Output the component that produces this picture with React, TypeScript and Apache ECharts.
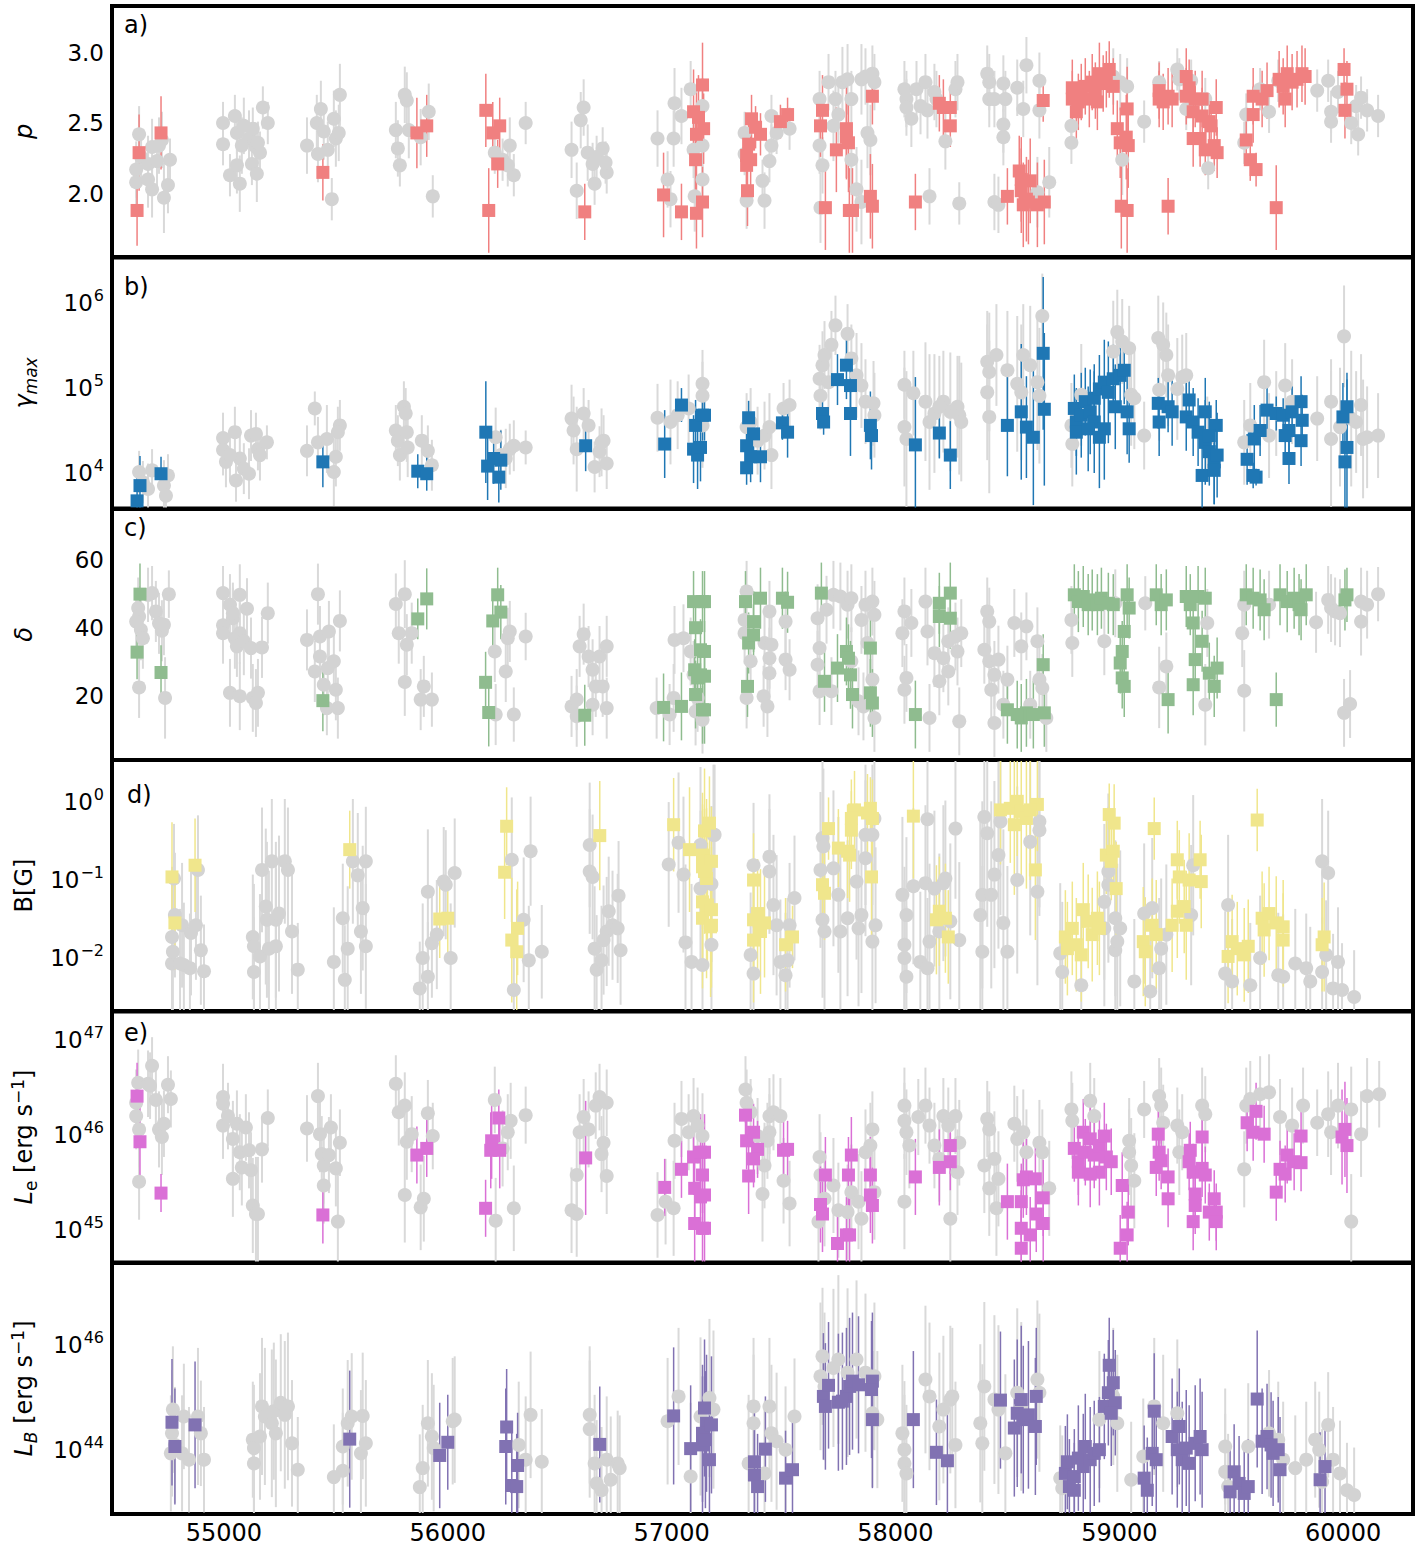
import React, { useEffect, useRef } from "react";
import * as echarts from "echarts";

// ---------- tick values ----------
const X_TICKS = [55000, 56000, 57000, 58000, 59000, 60000];
const P_TICKS = [2.0, 2.5, 3.0];
const GAMMA_TICKS = [4, 5, 6]; // log10 gamma_max
const DELTA_TICKS = [20, 40, 60];
const B_TICKS = [-2, -1, 0]; // log10 B
const LE_TICKS = [45, 46, 47]; // log10 Le
const LB_TICKS = [44, 46]; // log10 LB

// ---------- panel a: p  [MJD, p, err] ----------
const pGray = [
  [54621,2.42,0.2],[54608,2.17,0.2],[54608,2.08,0.2],[54630,2.26,0.2],[54661,2.21,0.2],[54679,2.33,0.2],[54701,2.23,0.2],[54679,2.03,0.2],[54723,2.38,0.2],[54732,1.97,0.25],[54750,2.06,0.2],[54759,2.24,0.15],[54661,2.1,0.2],[54710,2.34,0.2],
  [54996,2.5,0.15],[54996,2.35,0.15],[55027,2.13,0.15],[55049,2.55,0.15],[55058,2.43,0.15],[55071,2.07,0.2],[55058,2.2,0.2],[55089,2.48,0.2],[55112,2.39,0.2],[55129,2.46,0.15],[55143,2.33,0.15],[55125,2.21,0.15],[55147,2.14,0.2],[55161,2.29,0.15],[55174,2.61,0.15],[55196,2.5,0.15],[55080,2.34,0.2],[55152,2.36,0.15],
  [55371,2.34,0.2],[55415,2.5,0.2],[55420,2.28,0.2],[55433,2.6,0.2],[55446,2.44,0.2],[55482,1.96,0.15],[55491,2.53,0.2],[55500,2.39,0.2],[55513,2.43,0.2],[55518,2.7,0.22],[55464,2.31,0.2],
  [55768,2.45,0.2],[55777,2.32,0.2],[55786,2.2,0.15],[55808,2.7,0.2],[55817,2.66,0.2],[55826,2.45,0.2],[55879,2.4,0.2],[55915,2.58,0.2],[55933,1.98,0.15],
  [56210,2.29,0.15],[56245,2.24,0.15],[56277,2.34,0.2],[56295,2.13,0.15],[56348,2.5,0.15],[56268,2.2,0.15],
  [56553,2.31,0.2],[56576,2.02,0.2],[56594,2.52,0.2],[56607,2.61,0.2],[56625,2.29,0.2],[56647,2.21,0.15],[56656,2.07,0.15],[56665,2.26,0.15],[56692,2.32,0.15],[56710,2.15,0.15],[56705,2.22,0.15],
  [56937,2.39,0.2],[56982,2.1,0.2],[56995,1.96,0.2],[57013,2.64,0.25],[57009,2.39,0.2],[57044,2.55,0.2],[57085,2.74,0.2],[57098,2.31,0.2],[57103,1.98,0.25],[57138,2.34,0.2],[57138,2.1,0.2],[57138,2.62,0.2],
  [57326,2.43,0.15],[57326,2.28,0.15],[57335,1.95,0.2],[57406,2.09,0.15],[57415,1.95,0.2],[57437,2.23,0.15],[57446,2.55,0.15],[57446,2.34,0.15],[57527,2.46,0.15],[57469,2.43,0.15],
  [57661,2.67,0.2],[57661,2.34,0.2],[57674,2.2,0.2],[57665,1.9,0.25],[57701,2.79,0.2],[57732,2.67,0.2],[57745,2.56,0.2],[57763,2.79,0.25],[57786,2.81,0.25],[57803,2.67,0.2],[57826,2.03,0.3],[57848,2.81,0.25],[57866,2.83,0.2],[57897,2.85,0.2],[57906,2.79,0.2],[57875,2.43,0.25],[57888,2.38,0.25],[57848,1.94,0.3],[57803,2.24,0.25],[57723,2.48,0.25],
  [58040,2.74,0.2],[58049,2.67,0.2],[58049,2.61,0.2],[58071,2.53,0.2],[58094,2.74,0.2],[58134,2.79,0.2],[58143,2.59,0.2],[58152,1.98,0.2],[58174,2.72,0.2],[58183,2.67,0.2],[58223,2.37,0.2],[58268,2.74,0.2],[58277,2.79,0.2],[58285,1.93,0.15],[58112,2.62,0.2],
  [58410,2.85,0.2],[58419,2.79,0.2],[58419,2.67,0.2],[58442,2.67,0.2],[58482,2.78,0.2],[58491,2.67,0.2],[58544,2.75,0.2],[58585,2.91,0.2],[58571,2.6,0.2],[58482,2.49,0.2],[58482,2.4,0.2],[58442,1.94,0.2],[58460,1.92,0.2],[58643,2.8,0.2],[58643,2.59,0.2],[58687,2.08,0.25],[58634,2.01,0.25],
  [58786,2.48,0.15],[58786,2.36,0.15],[58973,2.83,0.2],[59004,2.79,0.2],[59035,2.76,0.2],[59013,2.24,0.25],[59111,2.51,0.15],
  [59178,2.79,0.15],[59259,2.88,0.15],[59268,2.81,0.15],[59321,2.8,0.15],[59384,2.67,0.15],[59397,2.18,0.15],[59299,2.6,0.15],
  [59558,2.36,0.15],[59567,2.56,0.15],[59629,2.74,0.15],[59669,2.58,0.15],[59710,2.8,0.15],
  [59884,2.73,0.15],[59933,2.8,0.15],[59946,2.58,0.15],[59946,2.51,0.15],[59977,2.72,0.15],[60058,2.62,0.15],[60080,2.68,0.15],[60067,2.42,0.15],[60107,2.59,0.15],[60156,2.55,0.15],[60036,2.5,0.15]
];
const pSel = [
  [54612,1.88,0.25],[54621,2.29,0.27],[54719,2.43,0.26],[55442,2.15,0.2],[55862,2.43,0.25],[55906,2.48,0.22],[56170,2.59,0.26],[56183,1.88,0.3],[56201,2.43,0.22],[56232,2.48,0.2],[56223,2.21,0.17],[56612,1.87,0.2],
  [56964,1.99,0.3],[57044,1.87,0.2],[57098,2.58,0.3],[57111,2.42,0.3],[57107,2.24,0.3],[57111,1.86,0.25],[57138,2.77,0.3],[57143,2.46,0.25],[57138,1.94,0.25],[57120,2.54,0.3],
  [57357,2.53,0.17],[57344,2.35,0.17],[57335,2.27,0.2],[57353,2.24,0.18],[57335,2.2,0.2],[57339,2.02,0.25],[57375,2.47,0.15],[57397,2.42,0.15],[57486,2.51,0.12],[57518,2.56,0.12],
  [57674,2.59,0.25],[57665,2.48,0.22],[57687,1.9,0.3],[57736,2.31,0.3],[57781,2.46,0.35],[57790,2.36,0.35],[57794,1.88,0.3],[57808,1.88,0.3],[57888,1.98,0.3],[57897,1.91,0.3],[57897,2.69,0.2],[57781,2.4,0.3],
  [58089,1.94,0.2],[58196,2.64,0.2],[58214,2.61,0.2],[58245,2.61,0.15],[58245,2.48,0.15],
  [58500,1.98,0.2],[58553,2.16,0.25],[58562,2.1,0.3],[58562,2.02,0.3],[58585,1.96,0.3],[58594,1.94,0.3],[58602,2.09,0.3],[58634,1.92,0.3],[58660,2.66,0.15],[58665,1.94,0.3],[58571,1.92,0.3],
  [58790,2.67,0.2],[58790,2.75,0.2],[58808,2.58,0.2],[58830,2.72,0.2],[58848,2.76,0.2],[58866,2.67,0.2],[58879,2.79,0.2],[58893,2.73,0.2],[58911,2.85,0.22],[58928,2.78,0.2],[58942,2.81,0.2],[58955,2.88,0.2],[58973,2.76,0.2],[58817,2.65,0.2],[58902,2.65,0.2],
  [58991,2.46,0.2],[59004,2.36,0.25],[59035,2.6,0.3],[59031,2.4,0.3],[59040,2.34,0.3],[59009,1.91,0.3],[59035,1.88,0.3],[59218,1.91,0.2],
  [59178,2.67,0.2],[59178,2.73,0.2],[59196,2.65,0.2],[59218,2.69,0.2],[59236,2.67,0.2],[59299,2.83,0.2],[59299,2.69,0.2],[59312,2.75,0.2],[59330,2.58,0.2],[59339,2.67,0.2],[59330,2.39,0.2],[59370,2.67,0.2],[59370,2.55,0.2],[59384,2.31,0.18],[59402,2.51,0.2],[59410,2.48,0.2],[59433,2.61,0.2],[59424,2.34,0.18],[59437,2.29,0.18],[59361,2.39,0.2],
  [59567,2.38,0.18],[59598,2.69,0.2],[59598,2.56,0.2],[59585,2.24,0.15],[59611,2.17,0.12],[59638,2.67,0.2],[59660,2.73,0.2],[59701,1.9,0.3],[59714,2.81,0.2],[59732,2.76,0.2],[59750,2.85,0.2],[59772,2.79,0.2],[59794,2.81,0.2],[59816,2.85,0.2],[59830,2.83,0.2],[59741,2.67,0.2],
  [60004,2.88,0.15],[60017,2.74,0.2],[60008,2.59,0.2]
];

// ---------- panel b: log10 gamma_max  [MJD, log10, err] ----------
const gGray = [
  [54621,3.97,0.25],[54638,3.85,0.25],[54679,3.99,0.25],[54732,3.81,0.3],[54750,3.93,0.25],[54741,3.69,0.25],[54661,3.77,0.3],
  [54996,4.37,0.3],[54996,4.23,0.3],[55009,4.09,0.3],[55049,4.44,0.3],[55054,3.87,0.25],[55071,4.13,0.3],[55089,4.01,0.3],[55112,3.95,0.3],[55121,4.4,0.3],[55143,4.42,0.25],[55152,4.24,0.25],[55192,4.32,0.2],[55161,4.17,0.3],[55027,4.17,0.3],
  [55371,4.22,0.3],[55406,4.72,0.2],[55420,4.32,0.3],[55460,4.36,0.4],[55491,3.97,0.4],[55500,4.15,0.35],[55518,4.52,0.3],[55509,4.44,0.3],
  [55768,4.46,0.3],[55777,4.34,0.3],[55786,4.17,0.3],[55804,4.74,0.3],[55812,4.66,0.3],[55817,4.44,0.35],[55821,4.26,0.35],[55884,4.34,0.3],[55911,4.22,0.3],[55929,4.05,0.3],
  [56214,4.38,0.35],[56237,4.17,0.3],[56259,4.13,0.35],[56277,4.24,0.3],[56295,4.28,0.3],[56348,4.26,0.2],
  [56553,4.6,0.4],[56562,4.46,0.4],[56576,4.24,0.5],[56607,4.66,0.3],[56629,4.52,0.3],[56656,4.03,0.3],[56678,4.21,0.3],[56696,4.34,0.3],[56710,4.07,0.3],[56687,4.32,0.4],
  [56937,4.61,0.4],[56995,4.56,0.5],[57027,4.64,0.4],[57076,4.72,0.4],[57138,5.01,0.4],[57138,4.87,0.4],[57138,4.52,0.5],
  [57335,4.5,0.4],[57353,4.56,0.4],[57384,4.34,0.4],[57415,4.4,0.4],[57446,4.17,0.4],[57500,4.72,0.3],[57527,4.76,0.3],[57437,4.5,0.4],
  [57661,5.07,0.4],[57665,4.87,0.4],[57674,5.23,0.4],[57714,5.47,0.4],[57732,5.7,0.35],[57786,5.6,0.35],[57803,5.31,0.4],[57826,5.11,0.5],[57848,4.99,0.5],[57866,4.8,0.5],[57902,4.78,0.5],[57906,4.64,0.5],[57683,5.35,0.4],[57701,5.03,0.4],
  [58040,5.0,0.4],[58040,4.5,0.7],[58049,4.36,0.8],[58080,4.9,0.5],[58134,4.8,0.7],[58152,4.56,0.8],[58174,4.66,0.7],[58214,4.8,0.6],[58245,4.68,0.7],[58277,4.74,0.6],[58285,4.64,0.7],[58294,4.56,0.7],[58196,4.74,0.6],
  [58410,5.27,0.6],[58419,5.15,0.7],[58410,4.91,0.8],[58419,4.62,0.9],[58451,5.35,0.6],[58500,5.17,0.7],[58544,5.01,0.8],[58571,5.35,0.6],[58602,5.23,0.7],[58656,5.81,0.5],[58634,5.03,0.8],[58643,4.87,0.8],[58562,4.91,0.8],
  [58786,4.52,0.5],[58790,4.3,0.5],[58830,4.88,0.6],[58991,5.62,0.5],[59013,5.51,0.5],[59044,5.43,0.5],[59053,4.88,0.6],[59067,4.84,0.6],[59111,4.4,0.4],[58973,5.39,0.6],
  [59174,5.55,0.5],[59196,5.47,0.5],[59210,5.35,0.5],[59218,5.11,0.6],[59281,5.09,0.5],[59299,5.11,0.5],[59259,4.95,0.6],[59393,4.36,0.5],[59178,4.94,0.6],
  [59558,4.32,0.5],[59585,4.52,0.5],[59647,5.03,0.5],[59669,4.4,0.5],[59741,4.99,0.5],[59772,4.8,0.5],[59701,4.66,0.5],
  [59884,4.6,0.5],[59946,4.8,0.5],[59946,4.36,0.8],[59986,4.5,0.7],[60004,5.57,0.6],[60036,4.6,0.8],[60080,4.76,0.6],[60089,4.36,0.7],[60107,4.38,0.6],[60156,4.4,0.5],[60058,4.56,0.6]
];
const gSel = [
  [54612,3.63,0.3],[54625,3.81,0.35],[54719,3.95,0.2],[55442,4.09,0.3],[55866,3.98,0.2],[55906,3.95,0.2],[56170,4.44,0.6],[56178,4.04,0.4],[56205,4.13,0.3],[56237,4.11,0.35],[56228,3.91,0.3],[56616,4.28,0.3],
  [56969,4.3,0.4],[57044,4.76,0.2],[57098,4.24,0.4],[57107,4.52,0.3],[57116,4.17,0.4],[57138,4.64,0.3],[57129,4.26,0.4],[57147,4.64,0.3],
  [57344,4.61,0.2],[57366,4.42,0.25],[57335,4.28,0.3],[57353,4.15,0.3],[57397,4.15,0.3],[57335,4.02,0.2],[57495,4.55,0.2],[57518,4.44,0.3],
  [57674,4.66,0.15],[57679,4.56,0.15],[57741,5.06,0.3],[57781,5.23,0.4],[57799,4.99,0.3],[57799,4.66,0.5],[57888,4.52,0.4],[57893,4.4,0.4],
  [58089,4.29,0.8],[58196,4.43,0.3],[58245,4.17,0.4],
  [58500,4.52,0.6],[58562,4.68,0.8],[58585,4.5,0.6],[58616,4.38,0.8],[58660,5.37,0.9],[58665,4.71,0.9],
  [58799,4.72,0.4],[58808,4.56,0.4],[58830,4.64,0.5],[58848,4.8,0.4],[58870,4.68,0.5],[58888,4.84,0.4],[58911,4.95,0.4],[58933,5.03,0.5],[58951,4.91,0.6],[58973,5.07,0.4],[59004,5.11,0.4],[59022,5.17,0.4],[59035,4.68,0.5],[59044,4.48,0.4],[58808,4.44,0.5],[58888,4.56,0.6],[58861,4.48,0.5],[58933,4.48,0.6],[58982,4.74,0.5],[58911,4.38,0.6],
  [59174,4.78,0.3],[59178,4.56,0.4],[59218,4.74,0.3],[59236,4.68,0.4],[59312,4.82,0.3],[59299,4.62,0.4],[59330,4.56,0.4],[59352,4.44,0.4],[59384,4.68,0.4],[59384,4.32,0.5],[59402,4.21,0.4],[59424,4.09,0.5],[59433,4.52,0.3],[59437,4.17,0.5],[59370,3.93,0.4],[59424,3.99,0.4],[59402,4.4,0.4],
  [59571,4.12,0.3],[59603,4.36,0.4],[59611,3.91,0.1],[59598,3.93,0.15],[59629,4.46,0.3],[59660,4.7,0.3],[59701,4.66,0.2],[59732,4.64,0.2],[59758,4.46,0.3],[59758,4.13,0.3],[59772,4.68,0.3],[59812,4.8,0.3],[59817,4.58,0.3],[59812,4.34,0.3],[59741,4.4,0.3],
  [59999,4.62,0.4],[60017,4.74,0.4],[60017,4.26,0.8],[60008,4.09,0.6]
];

// ---------- panel c: delta  [MJD, delta, err] ----------
const dGray = [
  [54617,45.8,9],[54621,43.3,9],[54608,41.8,9],[54629,39.4,9],[54638,36.9,9],[54661,49.7,8],[54679,50.2,8],[54696,44.8,9],[54710,41.3,9],[54723,39.1,9],[54732,40.9,9],[54754,49.9,7],[54621,22.4,9],[54737,19.3,12],
  [54996,50.2,8],[54996,40.7,9],[54996,38.4,9],[55027,46.8,9],[55040,42.8,9],[55040,44.3,9],[55049,36.9,9],[55058,34.5,9],[55071,49.7,9],[55071,38.4,9],[55089,36,10],[55103,45.6,9],[55121,34,9],[55129,19.3,10],[55152,20.8,10],[55170,34.2,9],[55196,44.3,9],[55027,20.8,10],[55071,19.8,10],[55143,17.8,10],
  [55371,36.4,9],[55420,49.9,9],[55406,27.1,9],[55429,37.4,9],[55429,31.5,9],[55446,23.2,9],[55464,28.1,9],[55469,38.9,9],[55491,30.1,9],[55500,21.7,9],[55518,42,9],[55460,16.3,8],[55509,16.3,9],
  [55768,47,9],[55781,38.4,9],[55808,49.9,10],[55808,24,10],[55817,35,9],[55839,38.4,9],[55879,18.8,9],[55893,22.7,9],[55929,18.8,8],
  [56210,33,9],[56214,14.4,9],[56259,27.1,9],[56268,36.9,9],[56277,38.9,9],[56295,14.4,8],[56348,37.4,7],
  [56553,16.8,9],[56576,18.8,9],[56576,13.9,9],[56589,34.5,9],[56607,38.1,9],[56629,31.5,9],[56647,27.6,9],[56661,22.7,9],[56678,31.5,9],[56692,22.7,9],[56710,16.3,9],[56710,34.5,9],[56647,17.3,9],
  [56933,16.3,9],[56991,14.4,9],[57009,19.3,10],[57013,36.4,10],[57053,36.9,10],[57085,33,10],[57098,26.1,10],[57107,15.3,10],[57116,19.3,10],[57138,12.9,10],
  [57335,50.7,9],[57326,42.3,9],[57326,38.4,9],[57353,30.1,9],[57335,19.3,9],[57415,35.5,9],[57437,31,9],[57437,26.6,9],[57446,35,9],[57411,19.8,9],[57428,16.8,9],[57509,30.6,9],[57527,27.6,9],[57509,41.8,9],[57437,44.8,9],
  [57652,42.8,10],[57661,34,10],[57652,29.1,10],[57661,21.3,10],[57692,45.3,10],[57723,49.7,10],[57754,49.2,10],[57786,46.8,10],[57803,48.7,10],[57848,42.3,10],[57866,46.8,10],[57897,47.7,10],[57906,43.8,10],[57875,35.5,10],[57906,13.4,10],[57857,16.8,10],[57714,21.3,10],[57803,30.1,10],[57835,18.3,10],[57897,24.7,10],
  [58040,44.8,10],[58031,38.4,10],[58049,25.2,10],[58040,21.7,10],[58071,41.4,10],[58134,47.7,10],[58143,38.9,10],[58152,13.4,10],[58174,32.5,10],[58196,24.2,10],[58214,31,10],[58236,36,10],[58268,37.4,10],[58277,33,10],[58285,12.4,10],[58294,38.4,10],[58236,27.1,10],
  [58410,44.8,10],[58419,41.8,10],[58397,33.5,10],[58419,30.1,10],[58442,26.1,10],[58460,30.6,10],[58428,21.7,10],[58442,11.9,10],[58482,17.3,10],[58500,24.7,10],[58531,41.4,10],[58562,34.5,10],[58585,40.4,10],[58634,36,10],[58643,24.7,10],[58656,22.2,10],[58674,13.4,10],[58602,17.3,10],
  [58786,42.3,10],[58790,35.5,10],[58933,36,10],[58982,47.2,10],[59116,47.2,8],[59210,28.6,10],[59178,22.4,12],
  [59384,17.3,12],[59393,41.4,10],
  [59549,38.4,10],[59558,46.8,10],[59558,21.4,12],[59669,46.8,10],[59879,41.6,9],
  [59933,48.2,10],[59946,45.8,10],[59964,44.8,10],[59986,44.3,10],[60080,47.7,10],[60080,41.8,10],[60107,46.8,10],[60156,49.9,8],[60004,14.9,10],[60031,17.5,10]
];
const dSel = [
  [54625,49.9,9],[54612,32.8,8],[54719,26.8,8],[55442,18.5,9],[55866,42.6,6],[55906,48.5,9],[56223,49.7,8],[56237,44.6,8],[56201,42,8],[56169,23.9,9],[56183,15,10],[56612,14.2,9],
  [56964,16.5,10],[57044,16.8,10],[57098,47.7,9],[57138,47.7,9],[57107,40,9],[57129,33.5,9],[57103,27.6,9],[57116,25.2,9],[57107,20.3,10],[57138,15.8,10],[57129,26.1,9],[57147,47.7,9],[57147,25.7,9],[57147,15.8,10],[57147,33,9],
  [57330,47.7,9],[57397,48.7,9],[57366,41.8,9],[57344,35.5,9],[57366,37.9,9],[57339,22.7,9],[57495,48.7,9],[57518,47.5,9],
  [57669,50.2,9],[57683,24.2,9],[57741,28.1,10],[57781,33,10],[57790,31,10],[57799,26.1,10],[57808,20.3,10],[57888,34,10],[57888,20.8,10],[57897,17.8,10],
  [58089,14.4,10],[58196,47.2,9],[58245,50.2,9],[58196,43.3,9],[58245,42.8,9],
  [58500,15.8,10],[58562,13.4,10],[58585,14.9,10],[58616,14.4,10],[58665,14.9,10],[58660,29.1,9],[58544,14.4,10],
  [58799,49.7,9],[58817,47.7,9],[58839,49.2,9],[58861,46.8,9],[58879,48.2,9],[58902,46.8,9],[58920,48.7,9],[58951,47.2,9],[58973,46.8,9],[59035,49.7,9],[59044,45.8,9],[59022,38.9,9],[59013,33,9],[59004,29.6,9],[59013,25.2,9],[59022,22.7,9],
  [59165,49.7,9],[59187,46.8,9],[59210,48.2,9],[59299,49.2,9],[59317,46.8,9],[59352,49.2,9],[59384,48.7,9],[59330,41.4,9],[59370,36,9],[59339,30.6,9],[59330,23.2,9],[59402,26.6,9],[59424,22.7,9],[59437,28.1,9],[59218,18.8,10],
  [59567,49.7,9],[59598,48.7,9],[59629,48.2,9],[59647,45.3,9],[59701,18.8,8],[59718,49.7,9],[59750,47.7,9],[59781,48.7,9],[59803,46.8,9],[59835,49.7,9],[59812,45.3,9],
  [60008,48.2,9],[60017,49.7,8]
];

// ---------- panel d: log10 B  [MJD, log10, err] ----------
const bGray = [
  [54768,-1.78,0.9],[54768,-2.12,0.9],[54772,-1.97,0.8],[54781,-1.5,0.8],[54777,-1.03,0.7],[54813,-1.63,0.8],[54821,-2.14,0.8],[54848,-2.18,0.7],[54853,-1.73,0.8],[54875,-1.63,0.7],[54884,-0.92,0.7],[54897,-1.95,0.7],[54911,-2.22,0.6],[54804,-2.12,0.7],
  [55129,-1.78,0.8],[55134,-1.9,0.8],[55134,-2.23,0.7],[55161,-2.03,0.8],[55170,-0.92,0.8],[55187,-1.39,1.0],[55192,-1.56,1.0],[55214,-0.81,0.8],[55201,-1.93,1.0],[55232,-1.56,1.0],[55246,-1.48,1.0],[55232,-1.9,1.0],[55272,-0.81,0.8],[55286,-0.92,0.8],[55304,-1.71,0.8],[55330,-2.2,0.6],
  [55491,-2.1,0.7],[55531,-1.54,0.7],[55540,-2.33,0.7],[55553,-1.93,0.8],[55576,-0.81,0.8],[55598,-0.99,0.8],[55612,-1.71,0.8],[55620,-1.41,0.8],[55634,-1.9,0.8],[55634,-0.81,0.7],
  [55875,-2.44,0.6],[55888,-2.05,0.7],[55911,-2.29,0.7],[55911,-1.2,0.8],[55929,-1.86,0.7],[55951,-1.75,0.7],[55982,-1.07,0.7],[55991,-1.11,0.7],[56013,-2.05,0.7],[56031,-0.96,0.7],
  [56286,-0.79,0.8],[56339,-1.56,0.8],[56295,-2.46,0.6],[56362,-2.08,0.7],[56370,-0.68,0.7],[56420,-1.97,0.6],
  [56634,-0.6,0.8],[56634,-0.94,0.8],[56647,-1.01,0.8],[56656,-1.93,0.8],[56665,-2.2,0.7],[56687,-2.08,0.7],[56710,-1.71,0.7],[56719,-1.45,0.7],[56736,-1.63,0.7],[56759,-1.67,0.7],[56763,-1.25,0.7],[56772,-1.95,0.7],[56696,-1.82,0.7],
  [56987,-0.85,0.8],[57031,-0.57,0.9],[57053,-0.98,1.0],[57062,-1.85,1.0],[57089,-2.1,1.0],[57129,-0.6,1.0],[57129,-1.16,1.0],[57138,-2.14,1.0],[57187,-0.47,0.9],[57178,-1.88,1.0],[57192,-0.47,0.9],[57178,-1.1,1.0],
  [57366,-0.86,0.8],[57366,-2.25,0.8],[57353,-2.01,0.8],[57437,-0.75,0.8],[57437,-0.94,0.8],[57455,-1.37,0.9],[57469,-1.63,0.9],[57509,-2.27,0.8],[57518,-2.08,0.8],[57549,-1.28,0.8],[57527,-1.63,0.8],[57486,-2.1,0.8],
  [57674,-0.51,1.0],[57678,-0.62,1.0],[57665,-0.92,1.0],[57674,-1.56,1.0],[57683,-1.71,1.0],[57723,-0.9,1.0],[57745,-1.24,1.0],[57786,-1.54,1.0],[57826,-1.07,1.0],[57835,-1.67,1.0],[57848,-1.5,1.0],[57866,-0.77,1.0],[57897,-0.47,0.9],[57906,-0.26,0.8],[57911,-1.63,1.0],[57897,-1.84,1.0],[57866,-0.47,0.9],[57754,-1.71,1.0],
  [58031,-1.24,1.0],[58040,-1.88,1.0],[58040,-2.05,1.0],[58049,-1.5,1.0],[58049,-2.29,0.9],[58080,-1.13,1.0],[58134,-1.09,1.0],[58143,-0.27,0.9],[58152,-1.84,1.0],[58174,-1.16,1.0],[58196,-1.71,1.0],[58214,-1.09,1.0],[58223,-1.03,1.0],[58245,-1.58,1.0],[58268,-0.39,0.9],[58285,-1.82,1.0],[58111,-2.1,0.9],[58143,-2.18,0.9],
  [58397,-0.24,1.2],[58410,-0.45,1.2],[58388,-1.24,1.2],[58379,-1.5,1.2],[58388,-1.97,1.1],[58428,-1.24,1.2],[58442,-0.98,1.2],[58460,-0.73,1.2],[58482,-1.6,1.2],[58500,-1.97,1.1],[58544,-1.05,1.2],[58602,-0.56,1.2],[58643,-0.3,1.1],[58643,-0.41,1.1],[58634,-1.2,1.2],[58469,-0.3,1.2],
  [58736,-1.99,0.9],[58745,-2.23,0.9],[58830,-2.4,0.9],[58933,-1.67,1.0],[58982,-1.54,1.0],[59004,-1.67,1.0],[58982,-1.95,1.0],[58951,-0.94,1.0],[58951,-1.11,1.0],[58933,-1.33,1.0],[59067,-2.35,0.8],[58991,-1.84,1.0],
  [59111,-1.48,0.9],[59147,-1.41,0.9],[59138,-2.48,0.8],[59187,-1.93,0.9],[59210,-1.75,0.9],[59330,-0.86,0.9],[59321,-1.5,0.9],[59178,-2.18,0.9],
  [59486,-1.37,0.9],[59473,-2.25,0.8],[59504,-2.35,0.8],[59585,-2.4,0.8],[59629,-2.05,0.8],[59710,-2.27,0.8],[59732,-2.29,0.8],[59786,-2.12,0.7],
  [59906,-0.81,0.8],[59933,-0.96,0.8],[59835,-2.18,0.7],[59853,-2.35,0.7],[59906,-2.23,0.7],[59955,-2.44,0.7],[59977,-2.1,0.7],[59995,-2.46,0.6],[60049,-2.55,0.6],[59924,-2.01,0.7]
];
const bSel = [
  [54768,-1.01,0.7],[54781,-1.6,0.6],[54871,-0.86,0.6],[55562,-0.66,0.5],[55964,-1.55,0.5],[56000,-1.54,0.5],[56263,-0.36,0.5],[56254,-0.95,0.6],[56312,-1.67,0.6],[56286,-1.82,0.8],[56308,-1.97,0.8],[56679,-0.48,0.7],
  [57009,-0.34,0.6],[57080,-0.66,0.8],[57147,-0.42,0.8],[57169,-0.32,0.6],[57138,-0.73,0.8],[57138,-0.88,0.8],[57156,-0.81,0.8],[57156,-1.03,0.9],[57138,-1.33,0.9],[57156,-1.41,0.9],[57138,-1.54,0.9],[57174,-1.65,0.9],[57178,-0.81,0.7],[57147,-0.94,0.8],[57160,-1.37,0.8],[57178,-1.43,0.8],[57178,-1.63,0.8],
  [57366,-1.05,0.6],[57366,-1.56,0.7],[57384,-1.48,0.7],[57415,-1.6,0.7],[57366,-1.82,0.8],[57397,-1.71,0.8],[57509,-1.88,0.6],[57540,-1.78,0.4],
  [57701,-0.39,0.4],[57745,-0.64,0.5],[57795,-0.73,0.6],[57803,-0.41,0.5],[57817,-0.15,0.5],[57888,-0.13,0.4],[57897,-0.26,0.5],[57893,-1.01,0.8],[57674,-1.11,0.6],[57683,-1.22,0.6],[57786,-0.68,0.6],[57803,-0.26,0.5],[57875,-0.19,0.5],
  [58080,-0.23,0.8],[58183,-1.56,0.7],[58196,-1.45,0.7],[58236,-1.78,0.6],[58223,-1.54,0.7],
  [58469,-0.15,0.7],[58513,-0.13,0.7],[58544,-0.04,0.7],[58562,-0.17,0.9],[58585,-0.26,0.9],[58531,-0.34,0.9],[58634,-0.08,0.6],[58625,-0.92,0.9],[58602,-0.15,0.9],
  [58759,-1.78,0.6],[58768,-1.93,0.6],[58790,-1.67,0.6],[58808,-1.88,0.6],[58839,-1.43,0.6],[58861,-1.58,0.6],[58879,-1.75,0.6],[58902,-1.54,0.6],[58911,-1.67,0.6],[58830,-2.01,0.6],[58955,-0.21,0.4],[58977,-0.32,0.5],[58942,-0.73,0.5],[58973,-0.68,0.5],[58964,-0.81,0.5],[58986,-1.16,0.6],
  [59107,-1.84,0.7],[59116,-1.97,0.7],[59147,-1.63,0.6],[59165,-1.75,0.7],[59156,-0.39,0.4],[59259,-0.79,0.5],[59268,-1.01,0.6],[59236,-1.63,0.6],[59259,-1.45,0.6],[59290,-1.39,0.6],[59299,-1.63,0.7],[59312,-1.05,0.6],[59361,-0.79,0.5],[59366,-1.07,0.6],
  [59486,-2.03,0.6],[59504,-1.84,0.6],[59527,-1.93,0.6],[59558,-2.01,0.6],[59576,-1.9,0.6],[59616,-0.28,0.4],[59638,-1.54,0.6],[59669,-1.48,0.6],[59701,-1.6,0.6],[59732,-1.65,0.6],[59732,-1.82,0.6],[59647,-1.69,0.6],
  [59906,-1.88,0.6],[59915,-1.78,0.7]
];

// ---------- panel e: log10 Le  [MJD, log10, err] ----------
const eGray = [
  [54617,46.51,0.35],[54608,46.3,0.35],[54608,46.16,0.35],[54621,46.02,0.4],[54621,45.47,0.4],[54661,46.5,0.35],[54670,46.48,0.35],[54679,46.69,0.3],[54696,46.33,0.4],[54710,46.02,0.4],[54723,45.94,0.4],[54732,46.08,0.35],[54750,46.49,0.3],[54763,46.34,0.3],
  [54996,46.36,0.35],[54996,46.29,0.35],[54996,46.06,0.35],[55018,46.16,0.35],[55040,45.92,0.4],[55040,45.5,0.4],[55058,46.08,0.35],[55071,45.78,0.4],[55080,45.62,0.4],[55098,46.04,0.35],[55112,45.8,0.4],[55121,45.59,0.4],[55129,45.22,0.5],[55143,45.13,0.6],[55152,45.13,0.6],[55170,45.81,0.35],[55196,46.14,0.3],
  [55371,46.03,0.35],[55420,46.37,0.35],[55429,45.97,0.4],[55437,45.76,0.4],[55446,45.64,0.4],[55446,45.43,0.4],[55469,45.75,0.4],[55478,46.04,0.35],[55500,45.61,0.4],[55518,45.88,0.35],[55509,45.05,0.5],
  [55768,46.5,0.3],[55781,46.2,0.35],[55808,46.27,0.35],[55817,45.89,0.4],[55808,45.33,0.5],[55839,45.97,0.4],[55879,45.2,0.45],[55893,45.29,0.45],[55911,46.19,0.35],[55933,45.95,0.35],
  [56210,46.33,0.35],[56214,45.06,0.45],[56245,45.82,0.4],[56268,45.99,0.4],[56281,46.11,0.4],[56295,45.19,0.45],[56348,46.17,0.3],
  [56553,45.17,0.45],[56576,45.13,0.45],[56576,45.54,0.45],[56589,45.99,0.4],[56607,46.15,0.4],[56629,46.02,0.4],[56661,46.27,0.35],[56678,46.36,0.35],[56687,45.76,0.4],[56696,45.88,0.4],[56710,45.53,0.4],[56710,46.3,0.35],
  [56937,45.12,0.45],[56973,45.26,0.45],[57009,45.19,0.5],[57013,45.9,0.4],[57044,46.13,0.4],[57076,45.99,0.4],[57098,46.16,0.4],[57116,46.06,0.4],[57138,45.95,0.45],
  [57330,46.44,0.35],[57335,46.3,0.35],[57353,46.2,0.35],[57384,45.95,0.4],[57406,45.34,0.5],[57415,45.64,0.45],[57437,46.16,0.4],[57437,45.99,0.4],[57455,46.2,0.4],[57486,46.16,0.4],[57500,45.48,0.45],[57527,45.24,0.45],[57428,45.9,0.4],
  [57661,45.73,0.45],[57665,45.54,0.45],[57656,45.05,0.5],[57683,45.29,0.5],[57723,45.43,0.5],[57745,45.17,0.5],[57786,45.15,0.5],[57803,45.36,0.5],[57835,45.26,0.5],[57848,45.08,0.5],[57866,45.78,0.45],[57888,45.85,0.45],[57897,46.02,0.4],[57906,45.36,0.5],
  [58040,46.27,0.4],[58040,46.11,0.4],[58049,45.99,0.45],[58040,45.26,0.5],[58062,45.85,0.45],[58102,46.15,0.4],[58134,46.27,0.4],[58152,46.06,0.4],[58174,45.85,0.45],[58196,45.71,0.45],[58214,46.16,0.4],[58236,46.06,0.4],[58268,46.16,0.4],[58277,45.57,0.45],[58285,45.88,0.45],[58245,45.08,0.5],
  [58410,46.13,0.4],[58419,46.02,0.4],[58397,45.64,0.5],[58442,45.71,0.5],[58460,45.5,0.5],[58419,45.4,0.5],[58451,45.19,0.5],[58531,46.08,0.4],[58544,45.92,0.45],[58571,45.99,0.45],[58585,45.78,0.45],[58643,45.88,0.45],[58656,45.78,0.45],[58687,45.4,0.5],
  [58786,46.23,0.4],[58790,46.11,0.4],[58870,46.32,0.4],[58888,46.16,0.4],[59044,45.9,0.45],[59044,45.78,0.45],[59053,45.64,0.5],[59067,45.48,0.5],[59111,46.23,0.3],
  [59178,46.37,0.4],[59187,46.27,0.4],[59196,46.09,0.4],[59259,46.06,0.4],[59281,45.99,0.4],[59370,46.27,0.4],[59384,46.18,0.4],[59268,45.78,0.45],
  [59558,45.6,0.4],[59567,46.27,0.4],[59585,46.34,0.4],[59629,46.39,0.4],[59669,46.41,0.4],[59718,46.15,0.4],[59772,46.06,0.4],[59821,46.27,0.4],[59884,46.09,0.35],
  [59933,46.18,0.45],[59946,45.99,0.45],[59977,46.27,0.45],[60036,46.23,0.45],[60080,45.97,0.45],[60107,46.37,0.4],[60161,46.39,0.35],[60036,45.05,0.5]
];
const eSel = [
  [54612,46.37,0.35],[54625,45.89,0.45],[54719,45.35,0.2],[55442,45.12,0.3],[55862,45.75,0.3],[55906,45.82,0.3],[56228,46.14,0.3],[56196,45.9,0.4],[56192,45.8,0.4],[56232,45.8,0.4],[56169,45.19,0.3],[56616,45.72,0.6],
  [56969,45.41,0.3],[57044,45.6,0.3],[57098,45.73,0.4],[57129,45.78,0.4],[57103,45.4,0.4],[57129,45.31,0.4],[57103,45.03,0.4],[57138,44.98,0.4],[57138,45.54,0.4],[57147,45.78,0.4],[57147,45.33,0.4],[57147,44.98,0.4],
  [57330,46.17,0.3],[57335,45.9,0.3],[57366,45.99,0.3],[57384,45.81,0.3],[57366,45.71,0.3],[57344,45.53,0.4],[57500,45.8,0.3],[57518,45.81,0.3],
  [57665,45.23,0.4],[57674,45.13,0.4],[57687,45.54,0.4],[57741,44.82,0.4],[57781,44.91,0.4],[57790,45.54,0.4],[57803,45.75,0.4],[57795,44.91,0.4],[57888,45.54,0.4],[57888,45.33,0.4],[57897,45.22,0.4],
  [58089,45.52,0.4],[58196,45.62,0.4],[58245,45.68,0.3],[58245,45.85,0.3],
  [58500,45.26,0.4],[58562,45.26,0.4],[58571,45.49,0.4],[58585,45.52,0.4],[58602,44.91,0.4],[58562,44.98,0.4],[58625,45.5,0.4],[58660,45.3,0.4],[58660,45.03,0.4],[58629,45.13,0.4],[58562,44.77,0.4],
  [58799,45.82,0.35],[58817,45.68,0.35],[58839,45.99,0.35],[58848,45.78,0.35],[58870,45.92,0.35],[58888,45.75,0.35],[58911,45.85,0.35],[58933,45.95,0.35],[58942,45.73,0.35],[58911,45.57,0.35],[58870,45.55,0.35],[58817,45.57,0.35],[58964,45.68,0.35],[59013,45.43,0.35],[59040,45.15,0.35],[59035,44.91,0.35],[59004,44.77,0.35],
  [59174,45.97,0.3],[59178,45.78,0.3],[59165,45.62,0.3],[59187,45.69,0.3],[59218,45.52,0.3],[59218,45.29,0.3],[59317,45.8,0.3],[59312,45.68,0.3],[59330,45.57,0.3],[59339,45.34,0.3],[59370,45.94,0.3],[59370,45.61,0.3],[59384,45.54,0.3],[59402,45.15,0.3],[59424,45.29,0.3],[59433,45.15,0.3],[59433,45.05,0.3],[59330,45.05,0.3],[59339,45.22,0.3],
  [59571,46.09,0.3],[59611,46.21,0.3],[59598,45.99,0.3],[59647,45.97,0.3],[59701,45.36,0.3],[59718,45.6,0.3],[59750,45.75,0.3],[59781,45.68,0.3],[59812,45.95,0.3],[59812,45.67,0.3],[59741,45.55,0.3],
  [60008,46.02,0.5],[60017,45.85,0.5],[59995,45.94,0.5]
];

// ---------- panel f: log10 LB  [MJD, log10, err] ----------
const lGray = [
  [54772,44.7,1.2],[54768,44.25,1.2],[54781,44.03,1.1],[54813,43.87,1.1],[54821,44.57,1.0],[54844,43.75,1.0],[54884,44.57,1.3],[54897,44.25,1.0],[54911,43.75,1.0],[54763,43.87,1.1],
  [55129,44.13,1.1],[55134,43.97,1.2],[55134,43.68,1.2],[55170,44.76,1.3],[55183,44.57,1.3],[55214,44.44,1.4],[55223,44.67,1.3],[55232,44.25,1.4],[55254,44.83,1.3],[55272,44.6,1.4],[55286,44.76,1.4],[55304,44.06,1.2],[55330,43.56,1.0],[55161,44.19,1.2],
  [55491,43.42,1.0],[55531,43.54,1.1],[55531,44.0,1.1],[55553,44.44,1.2],[55571,44.57,1.2],[55612,43.87,1.2],[55620,44.58,1.2],[55634,44.06,1.2],
  [55875,43.23,1.0],[55888,43.59,1.2],[55911,44.44,1.2],[55929,44.19,1.2],[55937,43.97,1.2],[56022,44.48,1.2],[56031,44.51,1.2],
  [56317,44.03,1.2],[56348,43.75,1.2],[56370,44.6,1.2],[56420,43.71,1.0],
  [56634,44.6,1.3],[56634,44.33,1.3],[56656,43.68,1.3],[56665,43.3,1.2],[56687,43.17,1.2],[56710,43.75,1.2],[56728,43.37,1.2],[56759,43.68,1.0],[56768,43.59,1.0],
  [56982,44.48,1.2],[57031,44.95,1.3],[57085,43.43,1.4],[57129,44.57,1.5],[57169,44.92,1.5],[57187,44.7,1.5],
  [57366,44.76,1.3],[57366,44.44,1.3],[57344,43.68,1.3],[57437,44.76,1.3],[57446,44.25,1.3],[57469,44.1,1.3],[57509,43.94,1.2],[57549,44.57,1.1],[57415,43.49,1.3],
  [57674,45.71,1.3],[57665,45.33,1.4],[57683,45.14,1.4],[57723,45.49,1.5],[57745,45.65,1.6],[57786,45.4,1.6],[57826,45.65,1.5],[57866,45.4,1.5],[57897,44.63,1.4],[57906,45.33,1.4],[57919,44.51,1.3],
  [58031,44.25,1.3],[58040,43.94,1.3],[58040,43.68,1.3],[58049,43.49,1.3],[58134,45.27,1.4],[58152,44.95,1.4],[58196,44.38,1.4],[58214,44.7,1.4],[58245,44.89,1.4],[58268,44.03,1.2],[58254,44.95,1.3],
  [58379,44.44,1.5],[58388,44.06,1.5],[58397,45.14,1.6],[58442,44.89,1.6],[58460,44.7,1.6],[58491,43.87,1.5],[58544,45.02,1.6],[58562,44.76,1.6],[58634,45.27,1.5],[58643,45.02,1.5],
  [58736,43.4,1.0],[58745,43.21,1.0],[58911,44.51,1.3],[58973,44.95,1.3],[58991,44.44,1.3],[59053,43.37,1.1],
  [59107,43.81,1.1],[59156,44.76,1.3],[59196,44.44,1.3],[59259,44.63,1.4],
  [59473,44.0,1.1],[59473,43.52,1.1],[59486,43.24,1.0],[59576,44.0,1.2],[59669,44.25,1.2],[59710,44.13,1.1],[59786,43.59,1.0],[59732,43.75,1.1],
  [59835,43.75,1.1],[59875,44.13,1.1],[59893,43.94,1.1],[59933,44.41,1.0],[59955,43.75,1.0],[59986,43.49,1.0],[60017,43.17,0.9],[60049,43.08,0.9],[59906,43.33,1.0]
];
const lSel = [
  [54768,44.46,1.2],[54781,44.0,1.1],[54871,44.41,1.2],[55562,44.14,1.3],[55964,43.83,1.0],[56000,44.08,0.9],[56263,44.37,1.1],[56259,44.0,1.1],[56312,43.64,1.0],[56286,43.26,1.0],[56308,43.24,1.0],[56679,44.04,1.1],
  [57009,44.58,1.3],[57085,43.96,1.2],[57147,44.73,1.3],[57156,44.44,1.3],[57138,44.03,1.3],[57169,43.75,1.3],[57138,44.25,1.3],[57178,44.41,1.3],[57151,44.13,1.3],
  [57370,43.71,1.0],[57370,43.46,1.0],[57384,43.24,1.0],[57419,43.95,1.0],[57509,43.4,0.9],[57540,43.56,0.9],
  [57678,44.95,1.2],[57687,44.76,1.2],[57701,45.16,1.2],[57745,44.84,1.3],[57781,44.95,1.3],[57795,45.14,1.3],[57808,45.24,1.3],[57897,45.24,1.3],[57893,45.08,1.3],[57897,44.51,1.3],[57763,44.86,1.3],[57835,45.17,1.3],
  [58080,44.51,1.3],[58183,43.89,1.0],[58232,43.73,1.0],
  [58469,44.88,1.3],[58531,44.35,1.3],[58544,44.63,1.4],[58571,44.51,1.4],[58594,44.6,1.4],[58629,44.95,1.3],[58625,44.38,1.3],[58562,44.89,1.4],
  [58759,43.49,0.9],[58768,43.71,0.9],[58777,43.24,0.9],[58799,43.43,0.9],[58817,43.78,1.0],[58839,43.62,1.0],[58848,44.0,1.0],[58870,43.75,1.0],[58888,43.87,1.0],[58911,43.94,1.0],[58933,44.76,1.0],[58951,45.02,1.0],[58955,45.54,0.9],[58973,45.21,1.0],[58982,44.83,1.0],[58964,44.63,1.0],[58799,43.17,0.9],
  [59111,43.4,1.0],[59125,43.17,1.0],[59147,43.87,1.0],[59156,44.67,1.1],[59165,43.75,1.0],[59236,44.19,1.1],[59259,43.94,1.1],[59268,44.38,1.1],[59281,43.75,1.1],[59299,43.97,1.1],[59312,43.68,1.1],[59339,44.06,1.1],[59361,44.19,1.1],[59370,43.94,1.1],
  [59495,43.14,0.9],[59513,43.52,0.9],[59535,43.3,0.9],[59558,43.11,0.9],[59576,43.24,0.9],[59616,44.9,1.3],[59638,44.1,1.0],[59660,44.19,1.0],[59687,43.87,1.0],[59710,43.94,1.0],[59718,43.56,1.0],[59678,44.03,1.0],
  [59897,43.37,0.9],[59919,43.62,0.9]
];

const FONT = "DejaVu Sans";
const GRAY = "#d3d3d3";
const GRAY_BAR = "#d9d9d9";

function supText(v: number): string {
  return v < 0 ? "\u2212" + Math.abs(v) : String(v);
}

export default function App() {
  const ref = useRef<HTMLDivElement>(null);
  useEffect(() => {
    if (!ref.current) return;
    const chart = echarts.init(ref.current, undefined, { renderer: "svg" });

    const GRID_TOP = [6, 257.5, 509, 760, 1011.5, 1263];
    const GRID_H = 251;
    const panels = [
      { gray: pGray, sel: pSel, color: "#f08080", min: 1.55, max: 3.33, ticks: P_TICKS, log: false, dec: 1,
        name: "{i|p}" },
      { gray: gGray, sel: gSel, color: "#1f77b4", min: 3.54, max: 6.5, ticks: GAMMA_TICKS, log: true, dec: 0,
        name: "{i|\u03b3}{sbi|max}" },
      { gray: dGray, sel: dSel, color: "#8fbc8f", min: 1.0, max: 75, ticks: DELTA_TICKS, log: false, dec: 0,
        name: "{i|\u03b4}" },
      { gray: bGray, sel: bSel, color: "#f0e68c", min: -2.73, max: 0.49, ticks: B_TICKS, log: true, dec: 0,
        name: "{n|B[G]}" },
      { gray: eGray, sel: eSel, color: "#da70d6", min: 44.62, max: 47.26, ticks: LE_TICKS, log: true, dec: 0,
        name: "{i|L}{sb|e}{n| [erg s}{sp|\u22121}{n|]}" },
      { gray: lGray, sel: lSel, color: "#8172b2", min: 42.72, max: 47.48, ticks: LB_TICKS, log: true, dec: 0,
        name: "{i|L}{sbi|B}{n| [erg s}{sp|\u22121}{n|]}" },
    ];

    const grid: any[] = [];
    const xAxis: any[] = [];
    const yAxis: any[] = [];
    const series: any[] = [];

    const errSeries = (data: number[][], color: string, width: number, idx: number) => ({
      type: "custom",
      xAxisIndex: idx,
      yAxisIndex: idx,
      silent: true,
      data,
      encode: { x: 0, y: 1 },
      renderItem: (params: any, api: any) => {
        const x = api.value(0);
        const y = api.value(1);
        const e = api.value(2);
        const a = api.coord([x, y + e]);
        const b = api.coord([x, y - e]);
        const cs = params.coordSys;
        const top = cs.y + 1;
        const bot = cs.y + cs.height - 1;
        return {
          type: "line",
          shape: { x1: a[0], y1: Math.max(top, a[1]), x2: a[0], y2: Math.min(bot, b[1]) },
          style: { stroke: color, lineWidth: width },
        };
      },
    });

    panels.forEach((p, i) => {
      grid.push({
        left: 112, width: 1301, top: GRID_TOP[i], height: GRID_H,
        show: true, borderColor: "#000", borderWidth: 4, backgroundColor: "transparent",
      });
      const isLast = i === panels.length - 1;
      xAxis.push({
        type: "value", gridIndex: i, min: 54500, max: 60312,
        axisLine: { show: false }, axisTick: { show: false }, splitLine: { show: false },
        axisLabel: isLast
          ? { show: true, customValues: X_TICKS, formatter: (v: number) => String(v), fontSize: 24, fontFamily: FONT, color: "#000", margin: 7 }
          : { show: false },
      });
      const labelRich = {
        b: { fontSize: 23, fontFamily: FONT, color: "#000", lineHeight: 24, padding: [7, 0, 0, 0] },
        s: { fontSize: 16, fontFamily: FONT, color: "#000", lineHeight: 16, verticalAlign: "top", padding: [0, 0, 0, 1] },
      };
      yAxis.push({
        type: "value", gridIndex: i, min: p.min, max: p.max,
        axisLine: { show: false }, axisTick: { show: false }, splitLine: { show: false },
        axisLabel: p.log
          ? { customValues: p.ticks, formatter: (v: number) => "{b|10}{s|" + supText(v) + "}", rich: labelRich, margin: 8 }
          : { customValues: p.ticks, formatter: (v: number) => v.toFixed(p.dec), fontSize: 23, fontFamily: FONT, color: "#000", margin: 8 },
        name: p.name,
        nameLocation: "middle",
        nameGap: 73,
        nameTextStyle: {
          fontSize: 24, fontFamily: FONT, color: "#000",
          rich: {
            i: { fontSize: 24, fontFamily: FONT, fontStyle: "italic", color: "#000", lineHeight: 30 },
            n: { fontSize: 24, fontFamily: FONT, color: "#000", lineHeight: 30 },
            sb: { fontSize: 17, fontFamily: FONT, color: "#000", lineHeight: 17, verticalAlign: "bottom" },
            sbi: { fontSize: 17, fontFamily: FONT, fontStyle: "italic", color: "#000", lineHeight: 17, verticalAlign: "bottom" },
            sp: { fontSize: 17, fontFamily: FONT, color: "#000", lineHeight: 17, verticalAlign: "top" },
          },
        },
      });
      series.push(errSeries(p.gray, GRAY_BAR, 2, i));
      series.push({
        type: "scatter", xAxisIndex: i, yAxisIndex: i, silent: true,
        symbol: "circle", symbolSize: 14,
        itemStyle: { color: GRAY, opacity: 1 },
        data: p.gray.map((d) => [d[0], d[1]]),
      });
      series.push(errSeries(p.sel, p.color, 1.5, i));
      series.push({
        type: "scatter", xAxisIndex: i, yAxisIndex: i, silent: true,
        symbol: "rect", symbolSize: 13,
        itemStyle: { color: p.color, opacity: 1 },
        data: p.sel.map((d) => [d[0], d[1]]),
      });
    });

    const labels = [
      { t: "a)", x: 124, y: 25 },
      { t: "b)", x: 124, y: 287 },
      { t: "c)", x: 124, y: 528 },
      { t: "d)", x: 127, y: 795 },
      { t: "e)", x: 124, y: 1033 },
    ];

    chart.setOption({
      animation: false,
      backgroundColor: "#fff",
      grid, xAxis, yAxis, series,
      graphic: labels.map((l) => ({
        type: "text", x: l.x, y: l.y, z: 100,
        style: { text: l.t, fontSize: 24, fontFamily: FONT, fill: "#000", verticalAlign: "middle", align: "left" },
      })),
    });
    return () => chart.dispose();
  }, []);

  return (
    <div
      ref={ref}
      style={{ position: "absolute", left: 0, top: 0, width: 1420, height: 1550, background: "#fff" }}
    />
  );
}
